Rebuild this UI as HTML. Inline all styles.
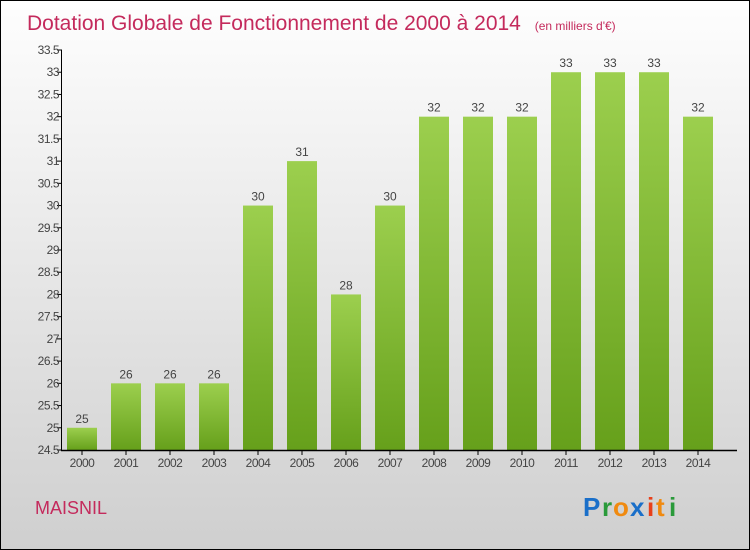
<!DOCTYPE html>
<html><head><meta charset="utf-8"><style>
body{margin:0}
#c{position:relative;width:750px;height:550px;box-sizing:border-box;border:1px solid #000;background:linear-gradient(#fefefe,#cfcfcf);font-family:"Liberation Sans",sans-serif;overflow:hidden}
</style></head><body>
<div id="c">
<svg width="748" height="548">
<defs><linearGradient id="g" x1="0" y1="0" x2="0" y2="1"><stop offset="0" stop-color="#9ccf4e"/><stop offset="1" stop-color="#66a01b"/></linearGradient></defs>
<text x="26" y="29" font-size="21" fill="#c42a5c">Dotation Globale de Fonctionnement de 2000 à 2014 <tspan font-size="12" dx="8">(en milliers d'€)</tspan></text>
<g id="plot"></g>
<text x="34" y="513" font-size="18" fill="#c42a5c">MAISNIL</text>
<g font-size="26" font-weight="bold" font-family="Liberation Sans,sans-serif">
<text x="582" y="515" fill="#1a6fc9">P</text><text x="601" y="515" fill="#2a9a3a">r</text><text x="612" y="515" fill="#f08a10">o</text><text x="629" y="515" fill="#1a6fc9">x</text><text x="646" y="515" fill="#e8401a">i</text><text x="655" y="515" fill="#f08a10">t</text><text x="668" y="515" fill="#2a9a3a">i</text>
</g>
</svg></div>
<script>
const categories=["2000","2001","2002","2003","2004","2005","2006","2007","2008","2009","2010","2011","2012","2013","2014"];
const values=[25,26,26,26,30,31,28,30,32,32,32,33,33,33,32];
const ticks=[24.5,25,25.5,26,26.5,27,27.5,28,28.5,29,29.5,30,30.5,31,31.5,32,32.5,33,33.5];
const NS="http://www.w3.org/2000/svg";
const g=document.getElementById('plot');
const y=v=>449-(v-24.5)*(400/9);
const x=i=>81+i*44;
function mk(t,a,txt){const e=document.createElementNS(NS,t);for(const k in a)e.setAttribute(k,a[k]);if(txt!==undefined)e.textContent=txt;g.appendChild(e);return e;}
ticks.forEach(t=>{
 const l=mk('line',{x1:56,x2:61,y1:y(t),y2:y(t),stroke:'#000'});
 
 
 const s=mk('text',{x:58,y:y(t)+4,'font-size':12,'text-anchor':'end',fill:'#444','letter-spacing':'-0.5'},String(t));
 
 
});
values.forEach((v,i)=>{
 const r=mk('rect',{x:x(i)-15,y:y(v),width:30,height:449-y(v),fill:'url(#g)'});
 
 
 const s=mk('text',{x:x(i),y:y(v)-5,'font-size':12,'text-anchor':'middle',fill:'#444'},String(v));
 
 
 const tk=mk('line',{x1:x(i),x2:x(i),y1:449,y2:454,stroke:'#000'});
 
 
 const c=mk('text',{x:x(i),y:466,'font-size':12,'text-anchor':'middle',fill:'#444','letter-spacing':'-0.5'},categories[i]);
 
 
});
const ya=mk('line',{x1:60.5,x2:60.5,y1:y(33.5),y2:450,stroke:'#000'});


const xa=mk('line',{x1:60,x2:736,y1:449.5,y2:449.5,stroke:'#000','stroke-width':1.5});


</script>
</body></html>
